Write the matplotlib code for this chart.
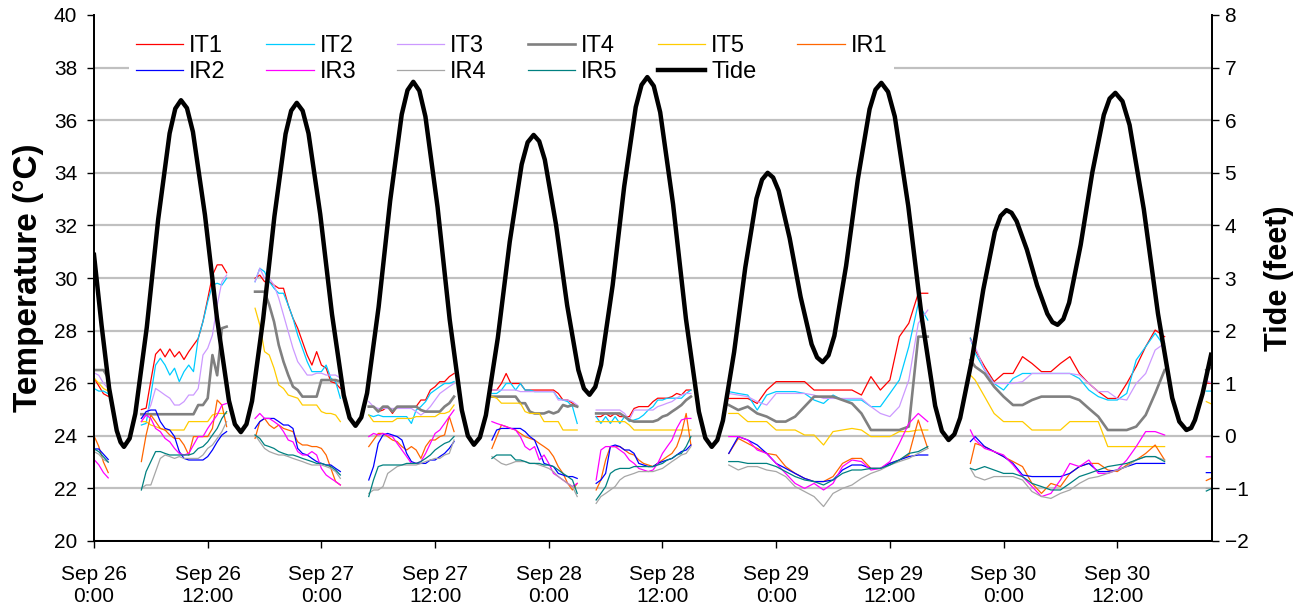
import numpy as np
import matplotlib
matplotlib.use('Agg')
import matplotlib.pyplot as plt

plt.rcParams['font.family'] = ['Liberation Sans', 'DejaVu Sans']

# hours since Sep 26 0:00 for each logger run (loggers exposed between tides)
seg_hours = [
    np.arange(0, 1.51, 0.5),
    np.arange(5, 14.01, 0.5),
    np.arange(17, 26.01, 0.5),
    np.arange(29, 38.01, 0.5),
    np.arange(42, 51.01, 0.5),
    np.arange(53, 63.01, 0.5),
    np.arange(67, 88.01, 1.0),
    np.r_[92.5, np.arange(93, 113.01, 1.0)],
    np.array([117.4, 118.0]),
]

it1 = [[26.2, 25.9, 25.6, 25.5],
       [25.0, 25.05, 26.1, 27.1, 27.3, 27.0, 27.3, 27.0, 27.2, 26.9, 27.2, 27.45, 27.7, 28.35, 29.2, 30.1, 30.5, 30.5, 30.2],
       [29.99, 30.11, 29.86, 29.86, 29.73, 29.61, 29.61, 28.97, 28.47, 28.09, 27.58, 27.07, 26.69, 27.20, 26.69, 26.57, 26.06, 26.00, 25.80],
       [25.11, 25.11, 24.92, 24.98, 25.11, 24.85, 25.11, 25.11, 25.11, 25.11, 25.11, 25.36, 25.36, 25.74, 25.87, 26.06, 26.06, 26.25, 26.37],
       [25.74, 25.74, 25.99, 26.37, 25.99, 25.99, 25.99, 25.74, 25.74, 25.74, 25.74, 25.74, 25.74, 25.74, 25.61, 25.36, 25.36, 25.24, 25.11],
       [24.73, 24.73, 24.85, 24.73, 24.85, 24.73, 24.73, 24.73, 25.04, 25.11, 25.11, 25.11, 25.30, 25.43, 25.43, 25.43, 25.49, 25.61, 25.55, 25.74, 25.74],
       [25.42, 25.42, 25.42, 25.23, 25.74, 26.06, 26.06, 26.06, 26.06, 25.74, 25.74, 25.74, 25.74, 25.74, 25.55, 26.25, 25.74, 26.12, 27.77, 28.28, 29.42, 29.42],
       [27.71, 27.26, 26.63, 26.06, 26.37, 26.37, 27.01, 26.75, 26.44, 26.44, 26.75, 27.01, 26.37, 25.99, 25.68, 25.42, 25.42, 25.99, 26.63, 27.39, 28.02, 27.77],
       [26.0, 26.0]]

it2 = [[25.8, 25.7, 25.7, 25.6],
       [24.41, 24.47, 25.55, 26.69, 26.95, 26.69, 26.31, 26.57, 26.06, 26.44, 26.69, 26.44, 27.71, 28.34, 29.10, 29.73, 29.80, 29.73, 29.99],
       [29.86, 30.37, 30.24, 29.86, 29.61, 29.42, 29.42, 28.97, 28.47, 27.83, 27.33, 26.82, 26.44, 26.44, 26.44, 26.69, 26.19, 26.06, 25.43],
       [24.79, 24.73, 24.79, 24.73, 24.73, 24.73, 24.73, 24.73, 24.73, 24.47, 24.98, 25.11, 25.30, 25.61, 25.74, 25.87, 25.99, 25.99, 26.06],
       [25.61, 25.61, 25.74, 25.99, 25.99, 25.74, 25.99, 25.74, 25.74, 25.68, 25.68, 25.68, 25.68, 25.68, 25.43, 25.36, 25.30, 25.11, 24.47],
       [24.73, 24.47, 24.73, 24.47, 24.73, 24.47, 24.73, 24.54, 24.60, 24.66, 24.79, 24.98, 25.11, 25.36, 25.36, 25.43, 25.43, 25.43, 25.43, 25.61, 25.74],
       [25.68, 25.61, 25.55, 24.98, 25.55, 25.68, 25.68, 25.68, 25.61, 25.36, 25.23, 25.55, 25.36, 25.36, 25.36, 25.11, 25.11, 25.61, 26.12, 27.39, 29.04, 28.40],
       [27.71, 27.14, 26.50, 25.99, 25.74, 26.18, 26.37, 26.37, 26.37, 26.37, 26.37, 26.37, 26.18, 25.74, 25.49, 25.36, 25.36, 25.61, 26.88, 27.39, 27.90, 27.39],
       [25.7, 25.7]]

it3 = [[26.4, 26.3, 26.0, 25.8],
       [24.66, 24.79, 25.17, 25.80, 25.68, 25.55, 25.43, 25.17, 25.17, 25.30, 25.55, 25.55, 25.80, 27.07, 27.33, 27.83, 28.97, 29.86, 30.11],
       [29.86, 30.37, 29.99, 29.99, 29.73, 29.23, 28.59, 27.96, 27.33, 26.82, 26.57, 26.31, 26.31, 26.38, 26.38, 26.31, 26.31, 26.31, 26.19],
       [25.30, 25.11, 25.04, 25.04, 25.04, 25.04, 25.04, 25.04, 25.04, 25.04, 24.92, 24.79, 24.92, 25.11, 25.36, 25.61, 25.74, 25.87, 25.99],
       [25.74, 25.74, 25.74, 25.74, 25.74, 25.74, 25.68, 25.68, 25.68, 25.68, 25.68, 25.68, 25.68, 25.68, 25.36, 25.36, 25.36, 25.30, 25.17],
       [24.98, 24.98, 24.98, 24.98, 24.98, 24.98, 24.85, 24.60, 24.98, 24.98, 24.98, 24.98, 24.98, 25.11, 25.17, 25.24, 25.30, 25.43, 25.55, 25.61, 25.61],
       [25.61, 25.55, 25.49, 25.30, 25.17, 25.61, 25.61, 25.61, 25.61, 25.55, 25.42, 25.42, 25.42, 25.42, 25.42, 25.11, 24.85, 24.73, 25.11, 26.12, 28.28, 28.78],
       [27.64, 27.39, 26.50, 25.99, 25.99, 25.99, 26.06, 26.37, 26.37, 26.37, 26.37, 26.37, 26.31, 25.99, 25.68, 25.68, 25.42, 25.36, 25.99, 26.37, 27.26, 27.52],
       [26.1, 26.0]]

it4 = [[26.5, 26.5, 26.5, 26.2],
       [24.82, 24.82, 24.82, 24.82, 24.82, 24.82, 24.82, 24.82, 24.82, 24.82, 24.82, 24.82, 25.17, 25.17, 25.43, 27.07, 26.3, 28.09, 28.15],
       [29.48, 29.48, 29.48, 28.97, 28.34, 27.45, 26.82, 26.31, 25.87, 25.74, 25.49, 25.49, 25.49, 25.49, 26.12, 26.12, 26.12, 26.12, 26.06],
       [25.11, 25.11, 24.92, 25.11, 25.11, 24.92, 25.11, 25.11, 25.11, 25.11, 25.11, 24.98, 24.92, 24.92, 24.92, 24.92, 25.11, 25.24, 25.49],
       [25.49, 25.49, 25.49, 25.49, 25.49, 25.49, 25.24, 25.24, 24.92, 24.85, 24.85, 24.85, 24.92, 24.85, 24.92, 25.17, 25.11, 25.17, 25.11],
       [24.85, 24.85, 24.85, 24.85, 24.85, 24.85, 24.73, 24.60, 24.54, 24.54, 24.54, 24.54, 24.54, 24.60, 24.73, 24.79, 24.92, 25.04, 25.17, 25.36, 25.49],
       [25.17, 24.98, 25.11, 24.85, 24.73, 24.54, 24.54, 24.73, 25.11, 25.49, 25.49, 25.49, 25.36, 25.23, 24.85, 24.22, 24.22, 24.22, 24.22, 24.35, 27.77, 27.77],
       [26.88, 26.63, 26.37, 25.87, 25.49, 25.17, 25.17, 25.36, 25.49, 25.49, 25.49, 25.49, 25.36, 25.04, 24.73, 24.22, 24.22, 24.22, 24.35, 24.79, 25.61, 26.50],
       [26.5, 26.6]]

it5 = [[26.2, 26.0, 25.8, 25.7],
       [24.54, 24.54, 24.41, 24.35, 24.28, 24.22, 24.22, 24.22, 24.22, 24.22, 24.54, 24.54, 24.54, 24.54, 24.54, 24.79, 24.85, 24.85, 24.85],
       [28.85, 28.21, 27.20, 27.07, 26.57, 25.93, 25.80, 25.55, 25.49, 25.43, 25.17, 25.17, 25.17, 25.17, 24.92, 24.85, 24.85, 24.79, 24.54],
       [24.79, 24.54, 24.54, 24.54, 24.54, 24.54, 24.66, 24.66, 24.66, 24.66, 24.73, 24.73, 24.73, 24.73, 24.73, 24.85, 24.85, 24.92, 25.17],
       [25.49, 25.43, 25.24, 25.24, 25.24, 25.24, 25.24, 24.92, 24.85, 24.85, 24.85, 24.54, 24.54, 24.54, 24.54, 24.22, 24.22, 24.22, 24.22],
       [24.54, 24.54, 24.54, 24.54, 24.54, 24.54, 24.54, 24.41, 24.22, 24.22, 24.22, 24.22, 24.22, 24.22, 24.22, 24.22, 24.22, 24.22, 24.22, 24.22, 24.22],
       [24.85, 24.85, 24.54, 24.54, 24.54, 24.22, 24.22, 24.22, 24.03, 24.03, 23.65, 24.16, 24.22, 24.28, 24.22, 23.97, 23.97, 23.97, 24.16, 24.16, 24.22, 24.22],
       [26.31, 26.12, 25.49, 24.85, 24.54, 24.54, 24.54, 24.22, 24.22, 24.22, 24.22, 24.54, 24.54, 24.54, 24.54, 23.59, 23.59, 23.59, 23.59, 23.59, 23.59, 23.59],
       [25.3, 25.2]]

ir1 = [[24.0, 23.6, 23.0, 22.6],
       [23.02, 24.03, 24.79, 24.54, 24.28, 24.22, 24.03, 23.90, 23.90, 23.65, 23.27, 23.97, 23.97, 23.97, 23.97, 24.28, 25.36, 25.17, 24.35],
       [23.90, 24.54, 24.66, 24.41, 24.28, 24.41, 24.28, 24.22, 24.16, 23.77, 23.65, 23.65, 23.59, 23.59, 23.52, 23.27, 22.76, 22.26, 22.13],
       [23.59, 23.84, 24.09, 24.09, 23.97, 23.84, 23.78, 23.59, 23.46, 23.59, 23.46, 23.14, 23.59, 23.84, 23.84, 23.97, 24.03, 24.73, 24.16],
       [23.52, 23.97, 24.41, 24.35, 24.28, 24.22, 24.09, 23.97, 23.90, 23.84, 23.71, 23.59, 23.46, 23.21, 22.83, 22.57, 22.19, 21.94, 22.19],
       [21.94, 22.32, 23.08, 23.59, 23.59, 23.59, 23.46, 23.33, 23.27, 23.08, 22.95, 22.89, 22.83, 22.95, 23.08, 23.21, 23.33, 23.59, 24.09, 24.85, 23.65],
       [23.33, 23.90, 23.71, 23.52, 23.33, 23.27, 22.83, 22.57, 22.38, 22.26, 22.26, 22.45, 22.95, 23.14, 23.14, 22.76, 22.76, 22.95, 23.08, 23.27, 24.60, 23.52],
       [22.95, 23.71, 23.59, 23.40, 23.21, 23.02, 22.83, 22.19, 21.81, 22.19, 22.07, 22.57, 22.83, 22.95, 22.95, 22.70, 22.64, 22.89, 23.08, 23.33, 23.65, 23.08],
       [22.3, 22.4]]

ir2 = [[23.5, 23.5, 23.3, 23.1],
       [24.66, 24.92, 24.98, 24.98, 24.54, 24.28, 24.22, 23.97, 23.40, 23.14, 23.08, 23.08, 23.08, 23.08, 23.21, 23.46, 23.77, 24.03, 24.16],
       [24.28, 24.54, 24.66, 24.66, 24.66, 24.54, 24.41, 24.41, 24.28, 23.52, 23.33, 23.27, 23.14, 23.02, 22.95, 22.89, 22.89, 22.76, 22.64],
       [22.32, 22.83, 23.71, 24.03, 24.09, 24.03, 23.97, 23.84, 23.33, 23.02, 22.95, 22.95, 22.95, 23.08, 23.08, 23.21, 23.33, 23.52, 23.78],
       [23.84, 24.22, 24.28, 24.28, 24.28, 24.28, 24.28, 24.16, 23.97, 23.84, 23.40, 22.95, 22.89, 22.83, 22.57, 22.51, 22.45, 22.45, 22.38],
       [22.19, 22.32, 22.57, 23.59, 23.65, 23.59, 23.46, 23.46, 23.33, 22.95, 22.89, 22.83, 22.83, 22.95, 23.02, 23.08, 23.14, 23.27, 23.40, 23.46, 23.65],
       [23.33, 23.97, 23.84, 23.65, 23.33, 22.95, 22.76, 22.57, 22.38, 22.26, 22.26, 22.32, 22.70, 22.89, 22.89, 22.76, 22.76, 22.95, 23.08, 23.21, 23.27, 23.27],
       [23.78, 23.97, 23.59, 23.40, 23.21, 22.95, 22.51, 22.45, 22.45, 22.45, 22.45, 22.57, 22.83, 22.95, 22.64, 22.64, 22.70, 22.83, 22.95, 22.95, 22.95, 22.95],
       [22.6, 22.6]]

ir3 = [[23.1, 22.9, 22.6, 22.4],
       [24.54, 24.79, 24.66, 24.28, 24.16, 23.90, 23.77, 23.52, 23.33, 23.27, 23.33, 23.65, 23.97, 23.97, 24.28, 24.54, 24.79, 25.17, 25.23],
       [24.66, 24.85, 24.66, 24.66, 24.54, 24.41, 24.16, 23.84, 23.77, 23.40, 23.27, 23.27, 23.40, 23.27, 22.76, 22.51, 22.38, 22.26, 22.13],
       [23.97, 24.09, 24.03, 24.09, 24.03, 23.97, 23.71, 23.46, 23.21, 22.95, 22.95, 23.02, 23.33, 23.71, 24.09, 24.22, 24.47, 24.73, 24.98],
       [24.54, 24.47, 24.41, 24.35, 24.28, 24.22, 23.97, 23.59, 23.46, 23.59, 23.08, 23.27, 22.95, 22.57, 22.45, 22.32, 22.19, 22.07, 22.19],
       [22.32, 23.46, 23.59, 23.59, 23.59, 23.46, 23.33, 23.08, 22.95, 22.76, 22.70, 22.64, 22.70, 22.95, 23.33, 23.59, 23.84, 24.28, 24.60, 24.66, 24.66],
       [23.97, 23.97, 23.84, 23.46, 23.33, 22.95, 22.57, 22.19, 22.00, 22.19, 21.94, 22.19, 22.83, 23.08, 23.02, 22.70, 22.76, 23.02, 23.71, 24.47, 24.85, 24.54],
       [24.22, 23.84, 23.52, 23.40, 23.27, 22.89, 22.45, 22.07, 21.69, 21.81, 22.32, 22.95, 22.83, 23.08, 22.57, 22.57, 22.70, 23.08, 23.59, 24.16, 24.16, 24.03],
       [23.2, 23.2]]

ir4 = [[23.4, 23.3, 23.1, 23.0],
       [22.00, 22.13, 22.13, 22.64, 23.14, 23.27, 23.21, 23.14, 23.21, 23.14, 23.14, 23.14, 23.14, 23.27, 23.52, 23.65, 23.90, 24.16, 24.54],
       [24.03, 23.77, 23.52, 23.40, 23.33, 23.27, 23.27, 23.21, 23.14, 23.08, 23.02, 22.95, 22.89, 22.89, 22.89, 22.83, 22.76, 22.64, 22.38],
       [21.81, 21.94, 21.94, 22.07, 22.57, 22.70, 22.83, 22.89, 22.89, 22.89, 22.89, 22.95, 23.02, 23.08, 23.14, 23.14, 23.27, 23.33, 23.84],
       [23.21, 23.08, 22.95, 22.89, 22.95, 23.02, 23.02, 23.02, 22.95, 22.95, 22.89, 22.83, 22.76, 22.64, 22.45, 22.32, 22.19, 22.07, 21.69],
       [21.43, 21.69, 21.81, 21.94, 22.07, 22.32, 22.45, 22.51, 22.57, 22.64, 22.64, 22.64, 22.64, 22.70, 22.76, 22.89, 23.02, 23.14, 23.27, 23.33, 23.59],
       [22.89, 22.70, 22.83, 22.83, 22.70, 22.64, 22.45, 22.07, 21.88, 21.69, 21.31, 21.81, 22.00, 22.13, 22.38, 22.57, 22.70, 22.89, 23.02, 23.14, 23.33, 23.52],
       [22.76, 22.45, 22.32, 22.45, 22.45, 22.45, 22.32, 21.88, 21.69, 21.62, 21.81, 21.94, 22.19, 22.38, 22.45, 22.57, 22.70, 22.83, 23.08, 23.21, 23.21, 23.08],
       [22.0, 22.0]]

ir5 = [[23.5, 23.4, 23.2, 23.0],
       [21.94, 22.64, 23.02, 23.40, 23.40, 23.33, 23.27, 23.27, 23.27, 23.27, 23.27, 23.33, 23.52, 23.59, 23.77, 24.03, 24.28, 24.66, 24.92],
       [24.03, 23.90, 23.65, 23.59, 23.52, 23.40, 23.33, 23.27, 23.27, 23.21, 23.14, 23.08, 23.02, 22.95, 22.95, 22.89, 22.83, 22.70, 22.51],
       [21.69, 22.32, 22.83, 22.89, 22.89, 22.89, 22.89, 22.89, 22.95, 22.95, 22.95, 23.02, 23.14, 23.27, 23.46, 23.59, 23.71, 23.78, 23.97],
       [23.14, 23.27, 23.27, 23.27, 23.27, 23.08, 23.08, 23.02, 22.95, 22.95, 22.95, 22.89, 22.89, 22.83, 22.70, 22.57, 22.45, 22.32, 21.81],
       [21.56, 21.81, 22.07, 22.57, 22.70, 22.76, 22.76, 22.76, 22.83, 22.83, 22.83, 22.83, 22.83, 22.89, 22.95, 23.08, 23.14, 23.27, 23.33, 23.59, 23.97],
       [23.02, 23.02, 22.95, 22.95, 22.95, 22.83, 22.64, 22.45, 22.32, 22.26, 22.13, 22.32, 22.57, 22.70, 22.70, 22.76, 22.76, 22.89, 23.08, 23.33, 23.40, 23.59],
       [22.76, 22.70, 22.83, 22.70, 22.57, 22.57, 22.45, 22.19, 22.07, 21.94, 21.94, 22.19, 22.45, 22.57, 22.70, 22.83, 22.89, 22.95, 23.08, 23.21, 23.21, 23.02],
       [21.9, 22.0]]

tide_hours = [0, 0.8, 1.6, 2.4, 2.8, 3.16,
              3.76, 4.36, 5.57, 6.77, 7.98, 8.58, 9.18,
              9.81, 10.44, 11.71, 12.97, 14.24, 14.87, 15.5,
              16.09, 16.68, 17.86, 19.04, 20.22, 20.81, 21.4,
              22.02, 22.64, 23.88, 25.12, 26.36, 26.98, 27.6,
              28.21, 28.82, 30.04, 31.26, 32.48, 33.09, 33.7,
              34.34, 34.98, 36.26, 37.54, 38.82, 39.46, 40.1,
              40.73, 41.36, 42.62, 43.88, 45.14, 45.77, 46.4,
              46.99, 47.58, 48.76, 49.94, 51.12, 51.71, 52.3,
              52.91, 53.52, 54.74, 55.96, 57.18, 57.79, 58.4,
              59.08, 59.76, 61.12, 62.48, 63.84, 64.52, 65.2,
              65.79, 66.38, 67.56, 68.74, 69.92, 70.51, 71.1,
              71.68, 72.26, 73.42, 74.58, 75.74, 76.32, 76.9,
              77.52, 78.14, 79.38, 80.62, 81.86, 82.48, 83.1,
              83.81, 84.52, 85.94, 87.36, 88.78, 89.49, 90.2,
              90.81, 91.42, 92.64, 93.86, 95.08, 95.69, 96.3,
              96.84, 97.38, 98.46, 99.54, 100.62, 101.16, 101.7,
              102.31, 102.92, 104.14, 105.36, 106.58, 107.19, 107.8,
              108.55, 109.3, 110.8, 112.3, 113.8, 114.55, 115.3,
              115.8, 116.2, 117.0, 117.9]
tide_feet = [3.44, 2.1, 0.9, 0.1, -0.12, -0.21,
             -0.05, 0.42, 2.06, 4.11, 5.75, 6.22, 6.38,
             6.23, 5.78, 4.20, 2.25, 0.67, 0.22, 0.07,
             0.22, 0.66, 2.23, 4.17, 5.74, 6.18, 6.33,
             6.18, 5.75, 4.21, 2.31, 0.77, 0.34, 0.19,
             0.35, 0.81, 2.45, 4.47, 6.11, 6.57, 6.73,
             6.56, 6.07, 4.35, 2.21, 0.49, 0.0, -0.17,
             -0.03, 0.39, 1.86, 3.69, 5.16, 5.58, 5.72,
             5.60, 5.25, 4.02, 2.48, 1.25, 0.90, 0.78,
             0.93, 1.35, 2.86, 4.74, 6.25, 6.67, 6.82,
             6.65, 6.15, 4.40, 2.22, 0.46, -0.04, -0.21,
             -0.08, 0.29, 1.59, 3.20, 4.51, 4.87, 5.0,
             4.91, 4.66, 3.76, 2.64, 1.74, 1.49, 1.40,
             1.53, 1.90, 3.23, 4.88, 6.21, 6.58, 6.71,
             6.54, 6.07, 4.37, 2.26, 0.57, 0.09, -0.08,
             0.03, 0.34, 1.43, 2.78, 3.88, 4.18, 4.29,
             4.24, 4.08, 3.54, 2.86, 2.32, 2.16, 2.11,
             2.22, 2.53, 3.63, 5.00, 6.10, 6.41, 6.52,
             6.36, 5.91, 4.31, 2.32, 0.72, 0.27, 0.11,
             0.15, 0.3, 0.8, 1.54]

tick_labels = ['Sep 26\n0:00', 'Sep 26\n12:00', 'Sep 27\n0:00', 'Sep 27\n12:00', 'Sep 28\n0:00',
               'Sep 28\n12:00', 'Sep 29\n0:00', 'Sep 29\n12:00', 'Sep 30\n0:00', 'Sep 30\n12:00']

names = ['IT1', 'IT2', 'IT3', 'IT4', 'IT5', 'IR1', 'IR2', 'IR3', 'IR4', 'IR5']
series = [it1, it2, it3, it4, it5, ir1, ir2, ir3, ir4, ir5]
colors = ['#ff0000', '#00ccff', '#cc99ff', '#808080', '#ffcc00',
          '#ff6600', '#0000ff', '#ff00ff', '#a6a6a6', '#008080']
widths = [0.9, 0.9, 0.9, 1.9, 0.9, 0.9, 0.9, 0.9, 0.9, 0.9]


def join(segs):
    # stitch logger runs together, NaN breaks the line between runs
    out = []
    for s in segs:
        out.extend(list(s))
        out.append(np.nan)
    return np.array(out[:-1], dtype=float)


x = join(seg_hours)

fig = plt.figure(figsize=(13.02, 6.16), dpi=100)
ax = fig.add_axes([94 / 1302, 75 / 616, 1118 / 1302, 526 / 616])
ax2 = ax.twinx()

handles = []
for name, s, c, w in zip(names, series, colors, widths):
    ln, = ax.plot(x, join(s), color=c, lw=w, label=name)
    handles.append(ln)

tl, = ax2.plot(tide_hours, tide_feet, color='black', lw=3.2, label='Tide',
               solid_joinstyle='round')
handles.append(tl)

ax.set_xlim(0, 118)
ax.set_ylim(20, 40)
ax2.set_ylim(-2, 8)
ax.set_yticks(range(20, 41, 2))
ax2.set_yticks(range(-2, 9))
ax.set_xticks(range(0, 109, 12))
ax.set_xticklabels(tick_labels, fontsize=15)
ax.tick_params(axis='x', direction='out', length=5, width=1, pad=12)
ax.tick_params(axis='y', direction='out', length=5, width=1, pad=7, labelsize=15)
ax2.tick_params(axis='y', direction='out', length=5, width=1, pad=4, labelsize=15)

ax.grid(axis='y', color='#c0c0c0', lw=1.6)
ax.set_axisbelow(True)
ax.yaxis.get_gridlines()[-1].set_visible(False)

for a in (ax, ax2):
    a.spines['top'].set_visible(False)
    for sp in ('left', 'right', 'bottom'):
        a.spines[sp].set_linewidth(1.3)

ax.set_ylabel('Temperature (\u00b0C)', fontsize=24, fontweight='bold', labelpad=7)
ax2.set_ylabel('Tide (feet)', fontsize=22, fontweight='bold', labelpad=11)

# legend reads row by row in the original, matplotlib fills by column;
# it sits on the lower axes so the tide line is drawn over its box
order = [0, 6, 1, 7, 2, 8, 3, 9, 4, 10, 5]
leg = ax.legend([handles[i] for i in order], [handles[i].get_label() for i in order],
                ncol=6, loc='upper left', bbox_to_anchor=(0.031, 0.975), fontsize=17,
                frameon=True, fancybox=False, edgecolor='none', facecolor='white',
                framealpha=1, handlelength=2.0, handletextpad=0.25, columnspacing=1.73,
                labelspacing=0.17, borderpad=0.3, borderaxespad=0)
leg.set_zorder(10)

fig.savefig('out.png', dpi=100)
